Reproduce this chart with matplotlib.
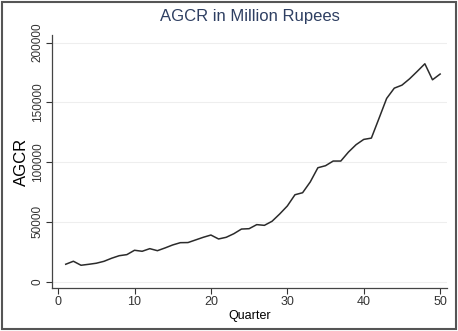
import numpy as np
import matplotlib.pyplot as plt
from matplotlib.patches import Rectangle

plt.rcParams['font.family'] = ['Liberation Sans', 'DejaVu Sans']

quarter = list(range(1, 51))
agcr = [14550, 17060, 13700, 14500, 15400, 17000, 19560, 21700, 22600, 26250,
        25400, 27600, 25900, 28200, 30700, 32600, 32700, 34900, 37100, 39000,
        35700, 37100, 40100, 44000, 44300, 47700, 47100, 50500, 56600, 63300,
        72700, 74400, 83400, 95300, 97000, 100900, 100900, 108400, 114600, 119000,
        120100, 136600, 153300, 161900, 164400, 169700, 175900, 182300, 168900, 173700]

fig = plt.figure(figsize=(4.58, 3.31), dpi=100)
ax = fig.add_axes([0.1135, 0.130, 0.8625, 0.764])
ax.plot(quarter, agcr, color='#2b2b2b', lw=1.1)

ax.set_xlim(-0.8, 50.9)
ax.set_ylim(-5300, 206300)
ax.set_xticks([0, 10, 20, 30, 40, 50])
ax.set_yticks([0, 50000, 100000, 150000, 200000])
ax.set_yticklabels(['0', '50000', '100000', '150000', '200000'], rotation=90, va='center')
ax.tick_params(labelsize=8.5, colors='#333333', length=4, width=0.8, pad=2)
ax.tick_params(axis='x', labelsize=9)
ax.grid(axis='y', color='#eeeeee', lw=0.8)
ax.set_axisbelow(True)
for s in ['top', 'right']:
    ax.spines[s].set_visible(False)
for s in ['left', 'bottom']:
    ax.spines[s].set_color('#444444')
    ax.spines[s].set_linewidth(0.9)

ax.set_title('AGCR in Million Rupees', fontsize=12, color='#2e3f62', pad=10)
ax.set_xlabel('Quarter', fontsize=9, labelpad=1)
ax.set_ylabel('AGCR', fontsize=12, labelpad=2)

fig.patches.append(Rectangle((0.004, 0.005), 0.992, 0.99, transform=fig.transFigure,
                             fill=False, edgecolor='#555555', lw=1.5))

fig.savefig('out.png', dpi=100)
